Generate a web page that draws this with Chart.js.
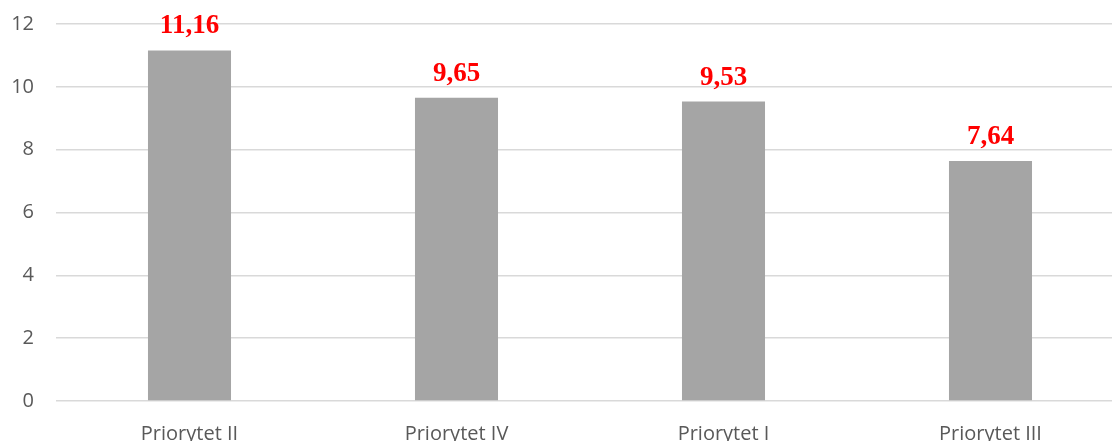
<!DOCTYPE html>
<html>
<head>
<meta charset="utf-8">
<script src="https://cdn.jsdelivr.net/npm/chart.js@4/dist/chart.umd.min.js"></script>
<style>
  html, body { margin: 0; padding: 0; overflow: hidden; background: #fff; }
  #wrap { width: 1124px; height: 480px; margin-top: -10px; }
</style>
</head>
<body>
<div id="wrap"><canvas id="barChart"></canvas></div>
<script>
const categories = ['Priorytet II', 'Priorytet IV', 'Priorytet I', 'Priorytet III'];
const values = [11.16, 9.65, 9.53, 7.64];
const yTicks = [0, 2, 4, 6, 8, 10, 12];

// red value labels above each bar, decimal comma
const valueLabels = {
    id: 'valueLabels',
    afterDatasetsDraw(chart) {
        const ctx = chart.ctx;
        const meta = chart.getDatasetMeta(0);
        ctx.save();
        ctx.font = 'bold 27px "Liberation Serif", "Times New Roman", serif';
        ctx.fillStyle = '#ff0000';
        ctx.textAlign = 'center';
        ctx.textBaseline = 'alphabetic';
        meta.data.forEach((bar, i) => {
            ctx.fillText(values[i].toFixed(2).replace('.', ','), bar.x, bar.y - 17);
        });
        ctx.restore();
    }
};

const ctx = document.getElementById('barChart').getContext('2d');
new Chart(ctx, {
    type: 'bar',
    data: {
        labels: categories,
        datasets: [{
            data: values,
            backgroundColor: '#a5a5a5',
            categoryPercentage: 1,
            barPercentage: 0.311,
        }]
    },
    options: {
        responsive: true,
        maintainAspectRatio: false,
        animation: false,
        layout: { padding: { top: 3, left: 0, right: 0, bottom: 0 } },
        plugins: {
            legend: { display: false },
            tooltip: { enabled: false },
        },
        scales: {
            x: {
                grid: { display: false },
                border: { display: false },
                ticks: {
                    color: '#595959',
                    padding: 13,
                    font: { family: '"Open Sans"', size: 20 },
                    maxRotation: 0,
                },
                afterFit(scale) { scale.height = 69; },
            },
            y: {
                min: 0,
                max: 12,
                afterBuildTicks(scale) { scale.ticks = yTicks.map(v => ({ value: v })); },
                grid: { color: '#d9d9d9', lineWidth: 1.5, drawTicks: false },
                border: { display: false },
                ticks: {
                    color: '#595959',
                    padding: 22,
                    font: { family: '"Open Sans"', size: 20 },
                },
                afterFit(scale) { scale.width = 56; },
            },
        },
    },
    plugins: [valueLabels],
});
</script>
</body>
</html>
